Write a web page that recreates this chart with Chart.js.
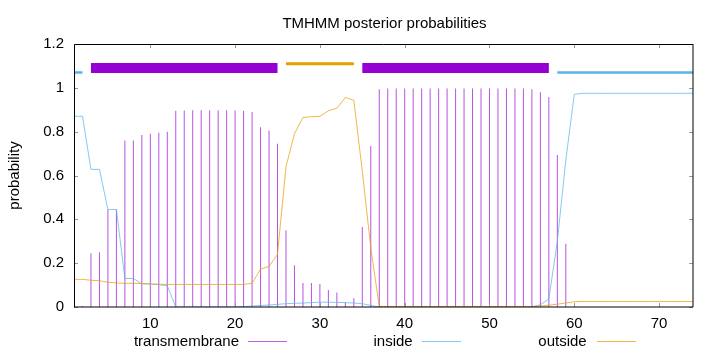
<!DOCTYPE html>
<html><head><meta charset="utf-8">
<script src="https://cdn.jsdelivr.net/npm/chart.js@4.4.1/dist/chart.umd.min.js"></script>
<style>
html,body{margin:0;padding:0;background:#fff;}
#wrap{position:relative;width:720px;height:352px;overflow:hidden;font-family:"Liberation Sans",Arial,sans-serif;color:#000;}
canvas{position:absolute;left:0;top:0;}
.t{position:absolute;font-size:15px;line-height:15px;white-space:nowrap;}
.ln{position:absolute;height:1px;}
</style></head><body>
<div id="wrap">
<canvas id="c" width="720" height="352"></canvas>
<div class="t" id="title" style="left:75px;width:619px;text-align:center;top:14.7px;"></div>
<div id="legend"></div>
</div>
<script>
// ---- data ----
const residues = [1,2,3,4,5,6,7,8,9,10,11,12,13,14,15,16,17,18,19,20,21,22,23,24,25,26,27,28,29,30,31,32,33,34,35,36,37,38,39,40,41,42,43,44,45,46,47,48,49,50,51,52,53,54,55,56,57,58,59,60,61,62,63,64,65,66,67,68,69,70,71,72,73,74];
const transmembrane = [0,0.005,0.245,0.25,0.445,0.445,0.76,0.76,0.785,0.79,0.795,0.80,0.895,0.897,0.898,0.898,0.898,0.898,0.898,0.897,0.896,0.89,0.82,0.805,0.745,0.35,0.19,0.11,0.11,0.105,0.078,0.066,0.022,0.04,0.365,0.735,0.993,0.997,0.997,0.997,0.997,0.997,0.997,0.997,0.997,0.997,0.997,0.997,0.997,0.997,0.997,0.997,0.997,0.997,0.993,0.98,0.958,0.693,0.289,0,0,0,0,0,0,0,0,0,0,0,0,0,0,0];
const inside = [0.87,0.87,0.628,0.628,0.445,0.445,0.13,0.13,0.106,0.105,0.102,0.097,0,0,0,0,0,0,0,0,0.002,0.004,0.007,0.009,0.012,0.015,0.017,0.018,0.02,0.022,0.022,0.021,0.02,0.018,0.015,0.007,0,0,0,0,0,0,0,0,0,0,0,0,0,0,0,0,0,0,0,0.01,0.037,0.30,0.67,0.97,0.975,0.975,0.975,0.975,0.975,0.975,0.975,0.975,0.975,0.975,0.975,0.975,0.975,0.975];
const outside = [0.126,0.126,0.122,0.12,0.113,0.11,0.108,0.108,0.107,0.105,0.104,0.103,0.103,0.103,0.103,0.103,0.103,0.103,0.103,0.103,0.103,0.108,0.173,0.185,0.24,0.64,0.79,0.865,0.868,0.87,0.895,0.907,0.956,0.943,0.62,0.27,0.003,0.002,0.002,0.002,0.002,0.002,0.002,0.002,0.002,0.002,0.002,0.002,0.002,0.002,0.002,0.002,0.002,0.002,0.002,0.005,0.008,0.013,0.018,0.024,0.025,0.025,0.025,0.025,0.025,0.025,0.025,0.025,0.025,0.025,0.025,0.025,0.025,0.025];
const segStart = [1,3,26,35,58];
const segEnd = [2,25,34,57,74];
const segType = ['inside','TMhelix','outside','TMhelix','inside'];
const xTicks = [10,20,30,40,50,60,70];
const yTicks = [0,0.2,0.4,0.6,0.8,1,1.2];
const yTickLabels = ['0','0.2','0.4','0.6','0.8','1','1.2'];
const seriesNames = ['transmembrane','inside','outside'];
const titleText = 'TMHMM posterior probabilities';
const yTitle = 'probability';

// ---- styles ----
const segStyle = {
  inside:  {level:1.07, color:'#56b4e9', width:2.5},
  TMhelix: {level:1.09, color:'#9400d3', width:10},
  outside: {level:1.11, color:'#e69f00', width:3}
};
const lineColors = {
  transmembrane:'rgba(148,0,211,0.62)',
  inside:'rgba(86,180,233,0.72)',
  outside:'rgba(230,159,0,0.72)'
};
const legendPos = [{right:239,l:248},{right:412.7,l:422},{right:586.7,l:597}];

document.getElementById('title').textContent = titleText;
const lg = document.getElementById('legend');
seriesNames.forEach((n,i)=>{
  const t=document.createElement('div'); t.className='t'; t.textContent=n;
  t.style.right=(720-legendPos[i].right)+'px'; t.style.top='333.3px'; t.style.textAlign='right';
  lg.appendChild(t);
  const l=document.createElement('div'); l.className='ln';
  l.style.left=legendPos[i].l+'px'; l.style.top='341px'; l.style.width='39px'; l.style.background=lineColors[n];
  lg.appendChild(l);
});

Chart.defaults.font.family = '"Liberation Sans", Arial, sans-serif';
Chart.defaults.font.size = 15;
Chart.defaults.color = '#000';

const datasets = [];
segStart.forEach((s,i)=>{
  const st = segStyle[segType[i]];
  datasets.push({type:'line', order:0, data:[{x:s,y:st.level},{x:segEnd[i],y:st.level}],
    borderColor:st.color, borderWidth:st.width, borderCapStyle:'butt', pointRadius:0, fill:false, clip:false});
});
datasets.push({type:'line', order:1, label:'outside', data:residues.map((r,i)=>({x:r,y:outside[i]})),
  borderColor:lineColors.outside, borderWidth:1, pointRadius:0, tension:0, fill:false});
datasets.push({type:'line', order:2, label:'inside', data:residues.map((r,i)=>({x:r,y:inside[i]})),
  borderColor:lineColors.inside, borderWidth:1, pointRadius:0, tension:0, fill:false});
datasets.push({type:'bar', order:3, label:'transmembrane', data:residues.map((r,i)=>({x:r,y:transmembrane[i]})),
  backgroundColor:'rgba(148,0,211,0.68)', borderWidth:0, barThickness:1, inflateAmount:0, grouped:false});

const frame = {
  id:'frame',
  afterDraw(chart){
    const {ctx, chartArea:a, scales:{x,y}} = chart;
    ctx.save();
    ctx.lineWidth=1;
    ctx.strokeStyle='#999';
    ctx.beginPath();
    xTicks.forEach(v=>{const px=Math.round(x.getPixelForValue(v))+0.5;
      ctx.moveTo(px,a.bottom); ctx.lineTo(px,a.bottom-4); ctx.moveTo(px,a.top); ctx.lineTo(px,a.top+4);});
    yTicks.forEach(v=>{const py=Math.round(y.getPixelForValue(v))+0.5;
      ctx.moveTo(a.left,py); ctx.lineTo(a.left+4,py); ctx.moveTo(a.right,py); ctx.lineTo(a.right-4,py);});
    ctx.stroke();
    ctx.strokeStyle='#000';
    ctx.beginPath();
    ctx.moveTo(a.left+0.5,a.bottom); ctx.lineTo(a.left+0.5,a.top+0.5); ctx.lineTo(a.right,a.top+0.5);
    ctx.stroke();
    ctx.beginPath();
    ctx.moveTo(a.right,a.top); ctx.lineTo(a.right,a.bottom); ctx.lineTo(a.left,a.bottom);
    ctx.stroke();
    ctx.restore();
  }
};

new Chart(document.getElementById('c'), {
  type:'line',
  data:{datasets},
  options:{
    responsive:false, animation:false, devicePixelRatio:1,
    layout:{padding:{top:44,right:27,bottom:17,left:0}},
    plugins:{legend:{display:false},title:{display:false},tooltip:{enabled:false}},
    scales:{
      x:{type:'linear',min:1,max:74,offset:false,
        grid:{display:false,drawTicks:false},border:{display:false},
        ticks:{autoSkip:false,maxRotation:0,padding:8,callback:(v)=>String(v)},
        afterBuildTicks:s=>{s.ticks=xTicks.map(v=>({value:v}));},
        afterFit:s=>{s.height=28;}},
      y:{type:'linear',min:0,max:1.2,
        grid:{display:false,drawTicks:false},border:{display:false},
        title:{display:true,text:yTitle,padding:{top:5.5,bottom:0},font:{size:15,lineHeight:1.2}},
        ticks:{padding:10,callback:(v,i)=>yTickLabels[i]},
        afterBuildTicks:s=>{s.ticks=yTicks.map(v=>({value:v}));},
        afterFit:s=>{s.width=74;}}
    }
  },
  plugins:[frame]
});
</script>
</body></html>
